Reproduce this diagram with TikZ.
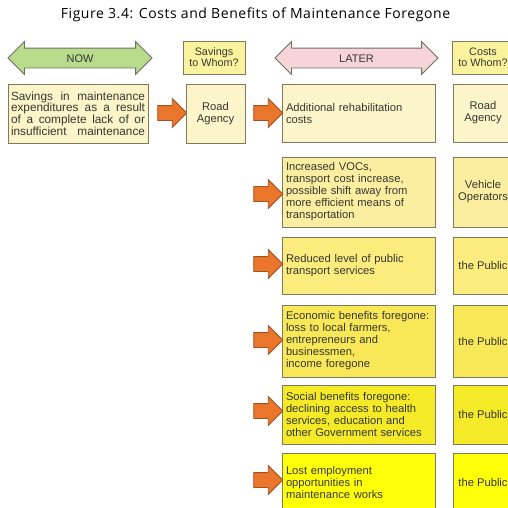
\documentclass[tikz,border=0pt]{standalone}
\usepackage{fontspec}
\setmainfont{Liberation Sans}
\newfontfamily\titlefont[LetterSpace=4]{Open Sans}
\usetikzlibrary{shapes.arrows}
\definecolor{boxborder}{RGB}{128,120,95}
\definecolor{txtgray}{RGB}{55,55,50}
\definecolor{rowA}{RGB}{252,245,202}
\definecolor{rowB}{RGB}{252,238,160}
\definecolor{rowC}{RGB}{251,236,125}
\definecolor{rowD}{RGB}{248,232,88}
\definecolor{rowE}{RGB}{244,234,40}
\definecolor{rowF}{RGB}{255,255,10}
\definecolor{topbox}{RGB}{251,242,158}
\definecolor{nowgreen}{RGB}{184,219,140}
\definecolor{laterpink}{RGB}{247,212,216}
\definecolor{arrowgray}{RGB}{110,110,105}
\definecolor{orangefill}{RGB}{233,118,42}
\definecolor{orangeedge}{RGB}{165,82,32}
\tikzset{
  box/.style={draw=boxborder, line width=0.8pt, inner sep=4pt,
    font=\fontsize{11.2}{12}\selectfont, text=txtgray},
  lbox/.style={box, text width=145, align=left},
  rbox/.style={box, minimum width=60, align=center, inner xsep=1pt},
  tbox/.style={box, fill=topbox, minimum width=62, minimum height=33, inner sep=1pt, align=center,
    font=\fontsize{10.8}{11}\selectfont},
  darrow/.style={double arrow, draw=arrowgray, line width=0.8pt, double arrow head extend=6.5,
    minimum width=32, inner xsep=0pt, inner ysep=0pt, text height=13.5pt, text depth=5.5pt,
    font=\fontsize{11}{12}\selectfont, text=txtgray},
  oarrow/.style={single arrow, draw=orangeedge, fill=orangefill, line width=0.8pt,
    single arrow head extend=7, minimum width=28, minimum height=29, inner sep=0pt,
    text height=7pt, text depth=7pt},
}
\begin{document}
\begin{tikzpicture}[x=1pt, y=-1pt]
\useasboundingbox[fill=white] (0,0) rectangle (508,507);
\node (title) at (255.5,14.5) {\titlefont\fontsize{14}{16}\selectfont Figure 3.4: Costs and Benefits of Maintenance Foregone};
% header
\node[darrow, fill=nowgreen, minimum height=144] (now) at (80,58) {NOW};
\node[tbox] (savwho) at (214,57.5) {Savings\\to Whom?};
\node[darrow, fill=laterpink, minimum height=163] (later) at (356.5,58) {LATER};
\node[tbox] (costwho) at (483,57.5) {Costs\\to Whom?};
% now column
\node[box, fill=rowA, text width=134, align=left, minimum height=59, inner sep=3pt,
  font=\fontsize{11.8}{11.6}\selectfont] (sav) at (78,113.5)
  {Savings\hfill in\hfill maintenance\\expenditures\hfill as\hfill a\hfill result\\of\hfill a\hfill complete\hfill lack\hfill of\hfill or\\insufficient\hfill maintenance};
\node[oarrow] (oa0) at (168.5,113) {};
\node[rbox, fill=rowA, minimum width=59, minimum height=59] (ra1) at (215.5,113.5) {Road\\Agency};
% later rows
\node[lbox, fill=rowA, minimum height=58] (l1) at (358.5,113) {Additional rehabilitation\\costs};
\node[lbox, fill=rowB, minimum height=70] (l2) at (358.5,192) {Increased VOCs,\\transport cost increase,\\possible shift away from\\more efficient means of\\transportation};
\node[lbox, fill=rowC, minimum height=57] (l3) at (358.5,265.5) {Reduced level of public\\transport services};
\node[lbox, fill=rowD, minimum height=72] (l4) at (358.5,341) {Economic benefits foregone:\\loss to local farmers,\\entrepreneurs and\\businessmen,\\income foregone};
\node[lbox, fill=rowE, minimum height=59] (l5) at (358.5,414.5) {Social benefits foregone:\\declining access to health\\services, education and\\other Government services};
\node[lbox, fill=rowF, minimum height=59] (l6) at (358.5,482.5) {Lost employment\\opportunities in\\maintenance works};
% arrows
\node[oarrow] (a1) at (264.5,113) {};
\node[oarrow] (a2) at (264.5,194) {};
\node[oarrow] (a3) at (264.5,264) {};
\node[oarrow] (a4) at (264.5,340) {};
\node[oarrow] (a5) at (264.5,411) {};
\node[oarrow] (a6) at (264.5,480) {};
% right column
\node[rbox, fill=rowA, minimum height=58] (r1) at (483,113) {Road\\Agency};
\node[rbox, fill=rowB, minimum height=70] (r2) at (483,192) {Vehicle\\Operators};
\node[rbox, fill=rowC, minimum height=57] (r3) at (483,265.5) {the Public};
\node[rbox, fill=rowD, minimum height=72] (r4) at (483,341) {the Public};
\node[rbox, fill=rowE, minimum height=59] (r5) at (483,414.5) {the Public};
\node[rbox, fill=rowF, minimum height=59] (r6) at (483,482.5) {the Public};
\end{tikzpicture}
\end{document}
